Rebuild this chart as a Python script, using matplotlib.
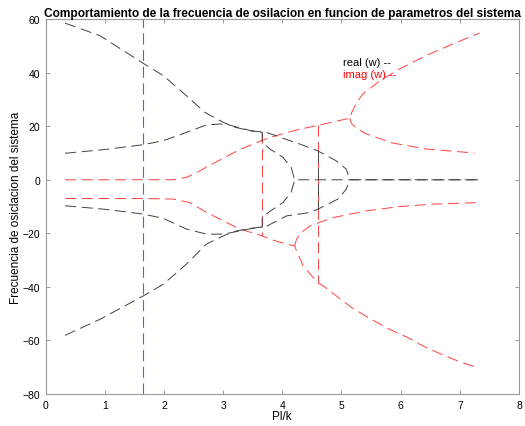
import matplotlib
matplotlib.use("Agg")
import matplotlib.pyplot as plt

plt.rcParams['font.family'] = ['Liberation Sans', 'DejaVu Sans']
plt.rcParams['lines.scale_dashes'] = False

# parte real de w (negro)
real_a_x = [0.33, 0.92, 1.65, 1.99, 2.38, 2.69, 3.0, 3.17, 3.45, 3.73, 4.0, 4.3, 4.6, 4.91, 5.08, 5.14, 7.33]
real_a_y = [58.5, 53.8, 43.5, 38.9, 31.4, 25.2, 21.5, 19.8, 18.3, 17.7, 15.6, 13.3, 10.8, 7.1, 4.0, 0.0, 0.0]

real_b_x = [0.33, 1.0, 1.65, 1.99, 2.38, 2.72, 2.95, 3.1, 3.3, 3.48, 3.66, 3.66, 3.79, 4.01, 4.15, 4.21, 7.33]
real_b_y = [9.9, 11.3, 13.1, 14.6, 17.7, 20.5, 20.8, 20.5, 19.3, 18.3, 17.7, 14.0, 11.5, 8.4, 4.6, 0.0, 0.0]

real_c_x = [0.33, 1.0, 1.65, 1.99, 2.38, 2.72, 2.95, 3.1, 3.3, 3.48, 3.66, 3.66, 3.79, 4.01, 4.15, 4.21]
real_c_y = [-9.7, -11.0, -12.8, -14.4, -18.4, -20.3, -20.3, -19.9, -19.0, -18.2, -17.7, -14.0, -11.8, -8.5, -4.7, 0.0]

real_d_x = [0.33, 0.92, 1.65, 1.99, 2.38, 2.72, 3.0, 3.17, 3.45, 3.73, 4.07, 4.47, 4.6, 4.94, 5.08, 5.14]
real_d_y = [-58.1, -52.1, -43.4, -39.0, -31.5, -24.0, -21.0, -19.4, -18.2, -17.4, -13.5, -12.2, -11.0, -7.2, -3.5, 0.0]

real_v_x = [4.6, 4.6]
real_v_y = [10.8, -11.0]

# parte imaginaria de w (rojo)
imag_a_x = [0.33, 1.0, 1.65, 2.16, 2.38, 2.55, 2.72, 3.0, 3.28, 3.45, 3.65, 3.79, 4.07, 4.3, 4.6,
            5.14, 5.17, 5.25, 5.36, 5.65, 5.98, 6.43, 6.88, 7.33]
imag_a_y = [0.0, 0.0, 0.0, 0.0, 0.9, 2.6, 4.8, 8.0, 11.3, 12.8, 14.6, 15.8, 17.6, 18.9, 20.3,
            23.0, 25.0, 28.5, 32.0, 37.0, 41.4, 46.4, 50.7, 54.8]

imag_b_x = [5.14, 5.17, 5.25, 5.42, 5.87, 6.43, 7.25]
imag_b_y = [23.0, 21.0, 19.3, 17.1, 13.7, 11.5, 10.0]

imag_c_x = [0.33, 1.0, 1.65, 2.16, 2.44, 2.72, 3.0, 3.17, 3.28, 3.66, 3.79, 4.07, 4.21, 4.24, 4.35,
            4.52, 4.6, 4.69, 5.17, 5.48, 5.79, 6.10, 6.38, 6.69, 6.97, 7.25]
imag_c_y = [-7.0, -7.0, -7.0, -7.2, -8.5, -12.2, -15.3, -17.2, -18.4, -20.9, -22.2, -24.0, -24.7, -26.5, -32.0,
            -36.5, -38.4, -39.6, -47.7, -51.8, -55.6, -58.7, -62.1, -65.2, -67.7, -69.8]

imag_d_x = [4.21, 4.24, 4.32, 4.47, 4.63, 4.86, 5.42, 5.98, 6.54, 7.33]
imag_d_y = [-24.7, -22.2, -19.7, -17.2, -15.9, -14.1, -11.6, -10.0, -9.1, -8.5]

imag_v1_x = [3.66, 3.66]
imag_v1_y = [17.7, -20.9]
imag_v2_x = [4.6, 4.6]
imag_v2_y = [20.3, -38.4]

pl_k_line = 1.65

fig = plt.figure(figsize=(5.25, 4.27), dpi=100)
ax = fig.add_axes([0.0867, 0.0749, 0.902, 0.878])

dash = (0, (8, 4))
kw_r = dict(color='#ff4040', lw=0.7, ls=dash)
kw_k = dict(color='#404040', lw=0.7, ls=dash)

for xs, ys in [(imag_a_x, imag_a_y), (imag_b_x, imag_b_y), (imag_c_x, imag_c_y),
               (imag_d_x, imag_d_y), (imag_v1_x, imag_v1_y), (imag_v2_x, imag_v2_y)]:
    ax.plot(xs, ys, **kw_r)

for xs, ys in [(real_a_x, real_a_y), (real_b_x, real_b_y), (real_c_x, real_c_y),
               (real_d_x, real_d_y), (real_v_x, real_v_y)]:
    ax.plot(xs, ys, **kw_k)

ax.plot([pl_k_line, pl_k_line], [-80, 60], color='#5a5aff', lw=0.8, ls=dash)

ax.text(5.03, 43.9, 'real (w) --', color='black', fontsize=8, va='center')
ax.text(5.03, 39.5, 'imag (w) --', color='red', fontsize=8, va='center')

ax.set_xlim(0, 8)
ax.set_ylim(-80, 60)
ax.set_xticks(range(0, 9))
ax.set_yticks(range(-80, 61, 20))
ax.tick_params(direction='in', length=3, width=0.6, color='#888888',
               labelsize=7.5, top=True, right=True, pad=4)
for s in ax.spines.values():
    s.set_color('#999999')
    s.set_linewidth(0.8)

ax.set_xlabel('Pl/k', fontsize=8.5, labelpad=0)
ax.set_ylabel('Frecuencia de osiclacion del sistema', fontsize=8.5, labelpad=0)
ax.set_title('Comportamiento de la frecuencia de osilacion en funcion de parametros del sistema',
             fontsize=8.6, fontweight='bold', pad=2)

fig.savefig('out.png', dpi=100)
